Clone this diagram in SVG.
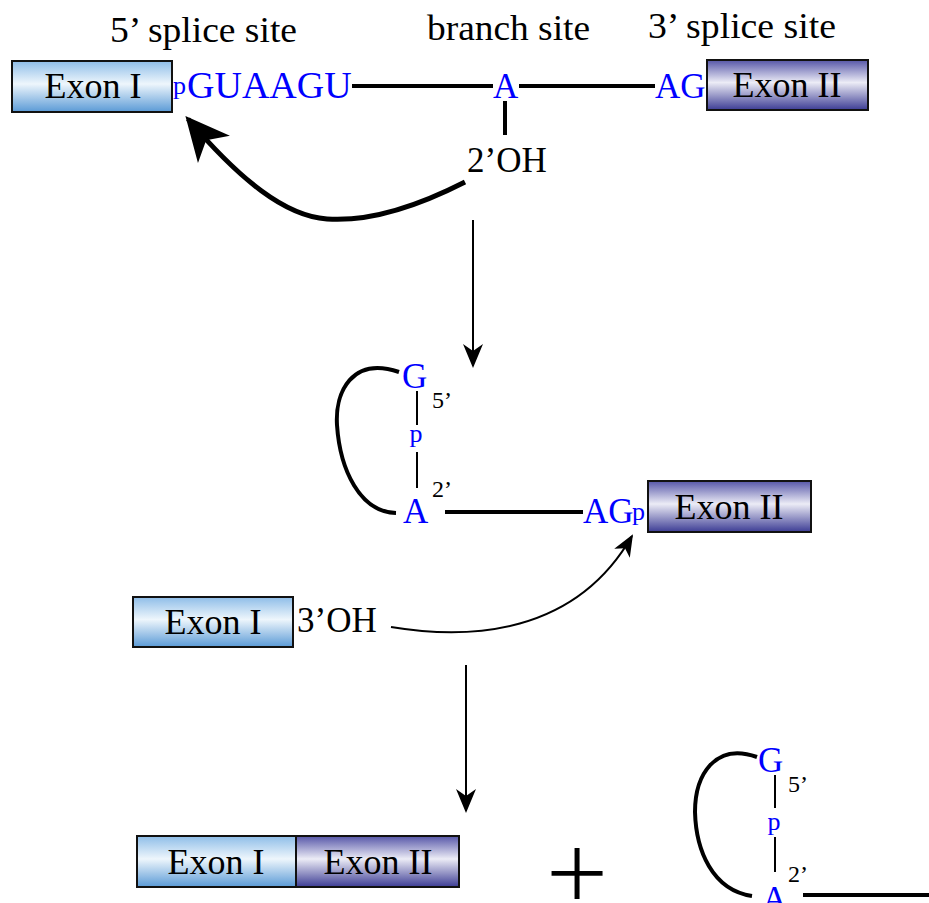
<svg xmlns="http://www.w3.org/2000/svg" width="929" height="903" viewBox="0 0 929 903">
  <defs>
    <linearGradient id="exon1" x1="0" y1="0" x2="0" y2="1">
      <stop offset="0" stop-color="#8ebde8"/>
      <stop offset="0.45" stop-color="#eef6fc"/>
      <stop offset="1" stop-color="#5a9ad6"/>
    </linearGradient>
    <linearGradient id="exon2" x1="0" y1="0" x2="0" y2="1">
      <stop offset="0" stop-color="#5656a8"/>
      <stop offset="0.45" stop-color="#ececf6"/>
      <stop offset="1" stop-color="#3c3c94"/>
    </linearGradient>
    <marker id="head-thin" viewBox="0 0 24 20" refX="22" refY="10" markerWidth="24" markerHeight="20" markerUnits="userSpaceOnUse" orient="auto">
      <path d="M0,0 L24,10 L0,20 L7,10 z" fill="#000"/>
    </marker>
    <marker id="head-small" viewBox="0 0 22 18" refX="20" refY="9" markerWidth="22" markerHeight="18" markerUnits="userSpaceOnUse" orient="auto">
      <path d="M0,0 L22,9 L0,18 L6,9 z" fill="#000"/>
    </marker>
    <marker id="head-bold" viewBox="0 0 44 42" refX="40" refY="21" markerWidth="44" markerHeight="42" markerUnits="userSpaceOnUse" orient="auto">
      <path d="M0,0 L44,21 L0,42 L12,21 z" fill="#000"/>
    </marker>
  </defs>
  <style>
    text { font-family: "Liberation Serif", "Times New Roman", serif; }
    .lbl { font-size: 35px; fill: #000; }
    .nt { font-size: 35px; fill: #0000ff; }
    .big { font-size: 38px; fill: #0000ff; }
    .sm { font-size: 26px; fill: #0000ff; }
    .smk { font-size: 24px; fill: #000; }
    .ex { font-size: 36px; fill: #000; text-anchor: middle; }
    .box1 { fill: url(#exon1); stroke: #111; stroke-width: 2; }
    .box2 { fill: url(#exon2); stroke: #111; stroke-width: 2; }
    .rna { stroke: #000; stroke-width: 4; fill: none; }
    .bond { stroke: #000; stroke-width: 2; fill: none; }
    .arw { stroke: #000; stroke-width: 2; fill: none; }
  </style>

  <!-- site labels -->
  <g id="labels">
    <text class="lbl" x="110" y="42" textLength="187" lengthAdjust="spacingAndGlyphs">5’ splice site</text>
    <text class="lbl" x="427" y="40" textLength="163" lengthAdjust="spacingAndGlyphs">branch site</text>
    <text class="lbl" x="648" y="38" textLength="188" lengthAdjust="spacingAndGlyphs">3’ splice site</text>
  </g>

  <!-- pre-mRNA -->
  <g id="exon1-pre">
    <rect class="box1" x="12" y="61" width="160" height="51"/>
    <text class="ex" x="93" y="98">Exon I</text>
  </g>
  <g id="intron-pre">
    <text class="sm" x="173" y="94" font-size="27">p</text>
    <text class="big" x="187" y="98">GUAAGU</text>
    <line class="rna" x1="352" y1="86" x2="493" y2="86"/>
    <text class="nt" x="493" y="98">A</text>
    <line class="rna" x1="519" y1="86" x2="655" y2="86"/>
    <text class="nt" x="655" y="98">AG</text>
    <line class="rna" x1="505" y1="101" x2="505" y2="135"/>
    <text class="lbl" x="467" y="172" font-size="36">2’OH</text>
  </g>
  <g id="exon2-pre">
    <rect class="box2" x="707" y="60" width="161" height="50"/>
    <text class="ex" x="787" y="97">Exon II</text>
  </g>

  <!-- lariat intermediate -->
  <g id="lariat-mid">
    <path class="rna" d="M399,372 C352,356 335,392 337,425 C340,470 360,512 396,513"/>
    <text class="nt" x="402" y="388" font-size="36">G</text>
    <text class="smk" x="432" y="408">5’</text>
    <line class="bond" x1="417" y1="391" x2="417" y2="425"/>
    <text class="sm" x="416" y="442" text-anchor="middle">p</text>
    <line class="bond" x1="417" y1="452" x2="417" y2="488"/>
    <text class="smk" x="432" y="497">2’</text>
    <text class="nt" x="403" y="523" font-size="36">A</text>
    <line class="rna" x1="445" y1="512" x2="583" y2="512"/>
    <text class="nt" x="583" y="523">AG</text>
    <text class="sm" x="632" y="520" font-size="21">p</text>
  </g>
  <g id="exon2-mid">
    <rect class="box2" x="648" y="481" width="163" height="51"/>
    <text class="ex" x="729" y="519">Exon II</text>
  </g>
  <g id="exon1-mid">
    <rect class="box1" x="133" y="597" width="160" height="50"/>
    <text class="ex" x="213" y="634">Exon I</text>
    <text class="lbl" x="297" y="632" font-size="36">3’OH</text>
  </g>

  <!-- spliced products -->
  <g id="mrna">
    <rect class="box1" x="137" y="836" width="159" height="51"/>
    <rect class="box2" x="296" y="836" width="163" height="51"/>
    <text class="ex" x="216" y="874">Exon I</text>
    <text class="ex" x="378" y="874">Exon II</text>
  </g>
  <g id="plus">
    <text x="577" y="907" font-size="118" text-anchor="middle" fill="#000" style="font-family: Inter, 'Liberation Sans', sans-serif; font-weight: 200;">+</text>
  </g>
  <g id="lariat-free">
    <path class="rna" d="M757,757 C715,742 695,775 695,812 C696,850 712,890 752,896"/>
    <text class="nt" x="758" y="772" font-size="36">G</text>
    <text class="smk" x="788" y="792">5’</text>
    <line class="bond" x1="775" y1="775" x2="775" y2="808"/>
    <text class="sm" x="774" y="830" text-anchor="middle">p</text>
    <line class="bond" x1="775" y1="837" x2="775" y2="872"/>
    <text class="smk" x="788" y="882">2’</text>
    <text class="nt" x="762" y="911" font-size="36">A</text>
    <line class="rna" x1="803" y1="895" x2="929" y2="895"/>
  </g>

  <!-- connectors -->
  <g id="connectors">
    <path d="M465,182 C420,205 370,222 327,219 C285,216 240,180 188,119" stroke="#000" stroke-width="5" fill="none" marker-end="url(#head-bold)"/>
    <line class="arw" x1="473" y1="220" x2="473" y2="366" marker-end="url(#head-thin)"/>
    <path class="arw" d="M391,627 C470,640 575,635 632,536" marker-end="url(#head-small)"/>
    <line class="arw" x1="466" y1="665" x2="466" y2="811" marker-end="url(#head-thin)"/>
  </g>
</svg>
